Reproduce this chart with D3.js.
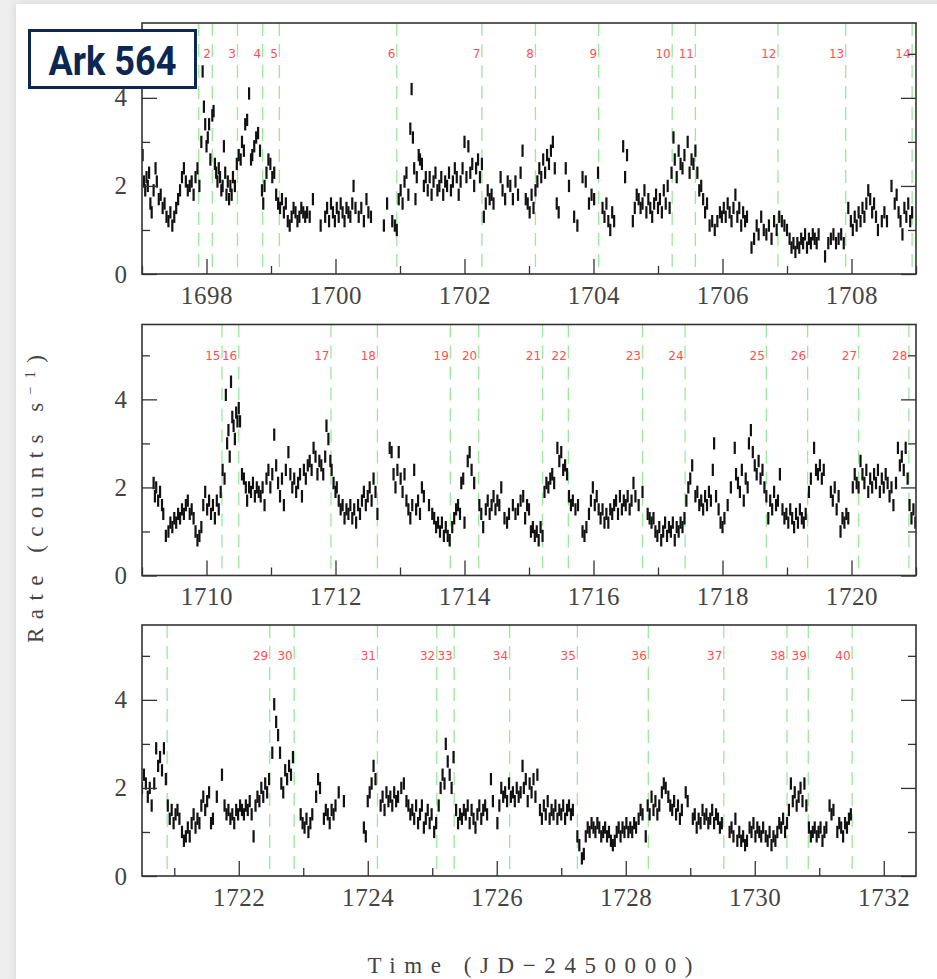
<!DOCTYPE html>
<html>
<head>
<meta charset="utf-8">
<script src="https://cdn.jsdelivr.net/npm/d3@7"></script>
<style>
  html, body { margin: 0; padding: 0; background: #eeeeee; }
  svg { display: block; }
</style>
</head>
<body>
<svg id="chart" width="937" height="979"></svg>
<script>
// Ark 564 X-ray light curve: [time (JD-2450000), rate (counts/s)]
const segmentA = [
  [1697.01,2.7],[1697.03,2.1],[1697.05,1.9],[1697.07,2.2],[1697.09,2.0],[1697.11,2.3],[1697.13,1.6],[1697.15,1.4],
  [1697.18,1.9],[1697.21,2.4],[1697.23,2.1],[1697.26,1.7],[1697.29,1.8],[1697.32,1.5],[1697.35,1.6],[1697.38,1.3],
  [1697.41,1.2],[1697.44,1.4],[1697.47,1.1],[1697.50,1.3],[1697.53,1.5],[1697.56,1.7],[1697.59,1.9],[1697.62,2.2],
  [1697.65,2.4],[1697.68,2.1],[1697.71,1.9],[1697.74,2.0],[1697.77,2.1],[1697.80,1.8],[1697.83,2.2],[1697.86,2.4],
  [1697.89,2.0],[1697.92,3.0],[1697.94,4.6],[1697.96,3.8],[1697.98,3.4],[1698.00,2.9],[1698.02,3.1],[1698.04,3.4],
  [1698.06,2.6],[1698.09,3.6],[1698.11,3.7],[1698.13,2.5],[1698.15,2.3],[1698.17,2.1],[1698.19,2.4],[1698.21,2.2],
  [1698.23,1.9],[1698.25,2.0],[1698.27,2.9],[1698.29,2.3],[1698.31,1.8],[1698.33,2.1],[1698.35,1.7],[1698.37,2.0],
  [1698.39,1.8],[1698.41,2.2],[1698.44,2.0],[1698.47,2.5],[1698.50,2.7],[1698.53,2.6],[1698.55,3.0],[1698.58,2.8],
  [1698.60,3.4],[1698.63,3.5],[1698.66,4.1],[1698.69,2.6],[1698.71,2.7],[1698.74,2.9],[1698.77,3.1],[1698.80,3.2],
  [1698.83,2.8],[1698.86,1.9],[1698.88,1.6],[1698.90,2.0],[1698.93,2.3],[1698.96,2.6],[1698.99,2.5],[1699.02,2.2],
  [1699.05,2.3],[1699.08,1.8],[1699.11,1.6],[1699.14,1.5],[1699.17,1.7],[1699.20,1.4],[1699.23,1.6],[1699.26,1.2],
  [1699.29,1.1],[1699.32,1.3],[1699.35,1.5],[1699.38,1.4],[1699.41,1.2],[1699.44,1.3],[1699.47,1.5],[1699.50,1.4],
  [1699.53,1.3],[1699.56,1.4],[1699.60,1.3],[1699.65,1.7],[1699.77,1.1],[1699.84,1.3],[1699.87,1.5],[1699.90,1.2],
  [1699.93,1.6],[1699.96,1.4],[1699.99,1.2],[1700.02,1.5],[1700.05,1.3],[1700.08,1.6],[1700.11,1.4],[1700.14,1.2],
  [1700.17,1.5],[1700.20,1.4],[1700.23,1.3],[1700.26,1.6],[1700.28,2.0],[1700.31,1.5],[1700.36,1.3],[1700.40,1.5],
  [1700.44,1.2],[1700.48,1.7],[1700.51,1.4],[1700.55,1.3],[1700.75,1.1],[1700.80,1.6],[1700.88,1.2],[1700.92,1.1],
  [1700.95,1.0],[1700.98,1.7],[1701.01,1.9],[1701.04,1.6],[1701.07,2.1],[1701.10,2.3],[1701.13,1.8],[1701.16,3.3],
  [1701.18,4.2],[1701.20,3.1],[1701.22,2.4],[1701.24,1.7],[1701.26,2.2],[1701.29,2.7],[1701.31,2.6],[1701.34,2.5],
  [1701.37,2.0],[1701.40,2.2],[1701.43,1.9],[1701.46,2.2],[1701.49,1.8],[1701.52,2.1],[1701.55,2.3],[1701.58,1.9],
  [1701.61,2.0],[1701.64,2.2],[1701.67,1.8],[1701.70,2.1],[1701.73,2.0],[1701.76,2.3],[1701.79,1.9],[1701.82,2.1],
  [1701.85,2.4],[1701.88,2.2],[1701.91,1.8],[1701.94,2.1],[1701.97,2.4],[1702.00,3.0],[1702.03,2.2],[1702.06,2.9],
  [1702.09,2.3],[1702.12,2.5],[1702.15,2.0],[1702.18,2.4],[1702.21,2.6],[1702.24,2.2],[1702.27,2.5],[1702.30,1.3],
  [1702.33,1.6],[1702.36,1.9],[1702.39,1.7],[1702.42,1.8],[1702.45,1.6],[1702.56,2.2],[1702.59,1.9],[1702.63,1.7],
  [1702.67,2.1],[1702.71,2.0],[1702.75,1.7],[1702.79,2.1],[1702.83,1.8],[1702.87,2.3],[1702.90,2.8],[1702.95,1.7],
  [1702.98,1.6],[1703.01,1.4],[1703.04,1.8],[1703.07,1.5],[1703.10,1.9],[1703.13,2.1],[1703.16,2.4],[1703.19,2.2],
  [1703.22,2.6],[1703.25,2.3],[1703.28,2.7],[1703.31,2.5],[1703.34,2.8],[1703.37,3.0],[1703.40,2.4],[1703.43,1.6],
  [1703.46,1.4],[1703.57,2.4],[1703.62,2.0],[1703.70,1.3],[1703.75,1.1],[1703.83,2.2],[1703.88,2.1],[1703.93,1.6],
  [1703.97,1.8],[1704.01,1.7],[1704.07,2.3],[1704.14,1.5],[1704.17,1.3],[1704.20,1.6],[1704.23,1.2],[1704.26,1.0],
  [1704.29,1.4],[1704.32,1.2],[1704.46,2.9],[1704.49,2.2],[1704.52,2.7],[1704.61,1.2],[1704.64,1.5],[1704.67,1.8],
  [1704.70,1.7],[1704.73,1.5],[1704.76,1.6],[1704.79,1.9],[1704.82,1.4],[1704.85,1.7],[1704.88,1.5],[1704.91,1.3],
  [1704.94,1.6],[1704.97,1.8],[1705.00,1.5],[1705.03,1.7],[1705.06,1.4],[1705.09,1.9],[1705.12,1.6],[1705.15,2.0],
  [1705.18,1.5],[1705.21,2.3],[1705.24,3.1],[1705.26,2.6],[1705.29,2.2],[1705.32,2.8],[1705.35,2.5],[1705.38,2.4],
  [1705.41,2.7],[1705.46,3.0],[1705.49,2.3],[1705.52,2.6],[1705.55,2.5],[1705.58,2.8],[1705.61,2.3],[1705.64,1.9],
  [1705.67,2.0],[1705.70,1.7],[1705.73,1.4],[1705.76,1.6],[1705.80,1.1],[1705.84,1.2],[1705.88,1.0],[1705.92,1.2],
  [1705.96,1.4],[1705.99,1.3],[1706.02,1.5],[1706.05,1.3],[1706.08,1.6],[1706.11,1.4],[1706.14,1.2],[1706.17,1.5],
  [1706.20,1.8],[1706.23,1.3],[1706.26,1.5],[1706.29,1.1],[1706.32,1.4],[1706.35,1.2],[1706.38,1.3],[1706.45,0.6],
  [1706.49,0.8],[1706.53,1.1],[1706.56,0.9],[1706.60,1.3],[1706.64,1.0],[1706.68,0.9],[1706.72,1.1],[1706.76,0.8],
  [1706.80,1.2],[1706.84,1.0],[1706.88,1.3],[1706.92,1.2],[1706.96,1.1],[1707.00,1.0],[1707.04,0.8],[1707.07,0.6],
  [1707.10,0.7],[1707.13,0.5],[1707.16,0.7],[1707.19,0.6],[1707.22,0.8],[1707.25,0.7],[1707.28,0.9],[1707.31,0.6],
  [1707.34,0.8],[1707.37,0.7],[1707.40,0.9],[1707.43,0.8],[1707.46,0.7],[1707.49,0.9],[1707.59,0.4],[1707.64,0.7],
  [1707.68,0.8],[1707.72,0.9],[1707.76,0.7],[1707.80,0.8],[1707.84,0.9],[1707.88,0.7],[1707.95,1.5],[1707.99,1.2],
  [1708.02,1.0],[1708.05,1.3],[1708.08,1.1],[1708.11,1.4],[1708.14,1.2],[1708.17,1.5],[1708.20,1.3],[1708.23,1.6],
  [1708.26,1.9],[1708.29,1.7],[1708.32,1.4],[1708.35,1.6],[1708.38,1.3],[1708.41,1.0],[1708.47,1.2],[1708.51,1.4],
  [1708.55,1.2],[1708.62,2.0],[1708.67,1.6],[1708.70,1.8],[1708.73,1.4],[1708.76,1.2],[1708.79,0.9],[1708.82,1.5],
  [1708.85,1.3],[1708.88,1.6],[1708.91,1.2],[1708.94,1.4]
];

const segmentB = [
  [1709.18,2.1],[1709.20,1.8],[1709.22,2.0],[1709.25,1.7],[1709.28,1.9],[1709.31,1.6],[1709.33,1.4],[1709.37,0.9],
  [1709.41,1.0],[1709.44,1.2],[1709.47,1.1],[1709.50,1.3],[1709.53,1.2],[1709.56,1.4],[1709.59,1.3],[1709.62,1.5],
  [1709.65,1.4],[1709.68,1.6],[1709.71,1.7],[1709.74,1.4],[1709.77,1.5],[1709.80,1.3],[1709.83,1.0],[1709.86,0.8],
  [1709.89,0.9],[1709.92,1.1],[1709.95,1.6],[1709.98,1.9],[1710.01,1.5],[1710.04,1.7],[1710.07,1.4],[1710.10,1.6],
  [1710.13,1.3],[1710.16,1.7],[1710.19,1.5],[1710.22,1.9],[1710.25,2.4],[1710.28,2.2],[1710.30,4.1],[1710.32,3.0],
  [1710.34,3.3],[1710.36,2.7],[1710.38,4.4],[1710.40,3.6],[1710.42,3.4],[1710.44,3.1],[1710.46,3.7],[1710.48,3.5],
  [1710.50,3.8],[1710.52,3.5],[1710.55,2.3],[1710.58,2.2],[1710.61,2.0],[1710.63,1.7],[1710.66,2.0],[1710.69,1.9],
  [1710.72,2.1],[1710.75,1.8],[1710.78,2.0],[1710.81,1.9],[1710.84,1.8],[1710.87,2.0],[1710.90,1.6],[1710.93,2.2],
  [1710.96,2.4],[1710.99,2.0],[1711.02,2.3],[1711.05,3.2],[1711.08,2.5],[1711.11,2.1],[1711.14,1.8],[1711.17,2.2],
  [1711.20,1.6],[1711.23,2.4],[1711.27,2.8],[1711.30,2.3],[1711.33,2.0],[1711.36,2.2],[1711.39,1.9],[1711.42,2.1],
  [1711.45,2.3],[1711.48,1.8],[1711.51,2.4],[1711.54,2.2],[1711.57,2.5],[1711.60,2.6],[1711.63,2.4],[1711.66,2.9],
  [1711.69,2.7],[1711.72,2.3],[1711.75,2.6],[1711.78,2.5],[1711.81,2.3],[1711.84,2.7],[1711.86,3.4],[1711.89,3.1],
  [1711.92,2.6],[1711.94,2.4],[1711.97,2.1],[1712.00,1.9],[1712.02,2.0],[1712.05,1.7],[1712.08,1.5],[1712.11,1.6],
  [1712.14,1.3],[1712.17,1.5],[1712.20,1.4],[1712.23,1.6],[1712.26,1.3],[1712.29,1.5],[1712.32,1.2],[1712.35,1.6],
  [1712.38,1.4],[1712.41,1.7],[1712.44,1.9],[1712.47,1.6],[1712.50,1.8],[1712.53,2.0],[1712.56,1.7],[1712.59,2.2],
  [1712.62,1.9],[1712.65,1.4],[1712.84,2.9],[1712.87,2.8],[1712.90,2.3],[1712.93,2.0],[1712.96,2.4],[1712.98,2.8],
  [1713.01,2.2],[1713.04,1.9],[1713.07,2.3],[1713.10,1.7],[1713.13,1.5],[1713.16,1.3],[1713.19,1.6],[1713.22,2.4],
  [1713.25,1.5],[1713.28,1.7],[1713.31,1.4],[1713.34,2.0],[1713.37,1.8],[1713.45,1.6],[1713.50,1.4],[1713.53,1.3],
  [1713.56,1.1],[1713.59,1.2],[1713.62,1.0],[1713.65,1.2],[1713.68,0.9],[1713.71,1.1],[1713.74,0.9],[1713.77,0.8],
  [1713.81,1.1],[1713.84,1.3],[1713.87,1.5],[1713.90,1.6],[1713.93,1.4],[1713.95,2.1],[1713.98,2.2],[1714.00,1.2],
  [1714.05,2.6],[1714.08,2.8],[1714.11,2.4],[1714.15,2.1],[1714.23,1.6],[1714.26,1.4],[1714.29,1.1],[1714.33,1.5],
  [1714.36,1.7],[1714.39,1.4],[1714.42,1.6],[1714.45,1.8],[1714.48,1.5],[1714.51,1.7],[1714.54,1.6],[1714.57,2.0],
  [1714.62,1.3],[1714.66,1.2],[1714.69,1.4],[1714.75,1.6],[1714.79,1.4],[1714.83,1.5],[1714.87,1.7],[1714.91,1.8],
  [1714.94,1.3],[1714.97,1.6],[1715.00,1.5],[1715.03,1.0],[1715.06,1.1],[1715.09,0.9],[1715.12,1.0],[1715.15,0.8],
  [1715.18,1.1],[1715.21,0.9],[1715.24,1.9],[1715.27,2.1],[1715.30,2.0],[1715.33,2.2],[1715.36,2.3],[1715.39,2.1],
  [1715.44,2.9],[1715.47,2.6],[1715.50,2.8],[1715.53,2.4],[1715.56,2.5],[1715.59,2.3],[1715.62,1.8],[1715.65,1.6],
  [1715.68,1.7],[1715.72,1.5],[1715.76,1.6],[1715.83,1.0],[1715.86,0.9],[1715.89,1.1],[1715.93,1.4],[1715.96,1.7],
  [1715.99,2.0],[1716.02,1.6],[1716.05,1.8],[1716.08,1.5],[1716.11,1.3],[1716.14,1.5],[1716.17,1.2],[1716.20,1.4],
  [1716.23,1.2],[1716.26,1.5],[1716.29,1.4],[1716.32,1.6],[1716.35,1.7],[1716.38,1.4],[1716.41,1.8],[1716.44,1.5],
  [1716.47,1.7],[1716.50,1.6],[1716.53,1.8],[1716.56,1.5],[1716.59,1.7],[1716.62,2.1],[1716.65,1.8],[1716.70,1.6],
  [1716.76,1.9],[1716.84,1.4],[1716.87,1.3],[1716.90,1.2],[1716.93,1.3],[1716.96,1.0],[1716.99,0.9],[1717.02,1.1],
  [1717.05,0.8],[1717.08,1.0],[1717.11,1.2],[1717.14,0.9],[1717.17,1.1],[1717.20,1.0],[1717.23,1.2],[1717.26,0.8],
  [1717.29,1.1],[1717.32,1.0],[1717.35,1.2],[1717.38,1.1],[1717.41,1.3],[1717.44,1.7],[1717.47,2.0],[1717.50,2.2],
  [1717.53,2.5],[1717.58,1.8],[1717.61,1.9],[1717.64,1.6],[1717.67,1.7],[1717.70,1.5],[1717.73,1.8],[1717.76,1.6],
  [1717.79,1.9],[1717.82,1.7],[1717.85,2.4],[1717.87,3.0],[1717.90,1.8],[1717.94,1.5],[1717.97,1.2],[1718.00,1.1],
  [1718.03,1.3],[1718.08,1.6],[1718.13,2.0],[1718.19,2.9],[1718.21,2.3],[1718.24,2.1],[1718.27,1.9],[1718.30,2.4],
  [1718.33,1.7],[1718.36,2.2],[1718.39,2.0],[1718.41,3.0],[1718.44,3.3],[1718.47,2.8],[1718.50,2.5],[1718.53,2.3],
  [1718.56,2.6],[1718.59,2.2],[1718.62,2.4],[1718.65,2.0],[1718.68,1.8],[1718.71,1.3],[1718.74,1.7],[1718.77,1.5],
  [1718.80,1.9],[1718.83,1.6],[1718.86,1.7],[1718.89,2.3],[1718.93,1.5],[1718.96,1.3],[1718.99,1.4],[1719.02,1.2],
  [1719.05,1.5],[1719.08,1.3],[1719.11,1.1],[1719.14,1.4],[1719.17,1.2],[1719.20,1.5],[1719.23,1.3],[1719.26,1.2],
  [1719.29,1.4],[1719.34,1.9],[1719.37,2.2],[1719.42,2.9],[1719.45,2.4],[1719.48,2.3],[1719.51,2.5],[1719.54,2.2],
  [1719.57,2.4],[1719.68,1.9],[1719.71,1.7],[1719.74,2.0],[1719.77,1.5],[1719.80,1.8],[1719.83,1.0],[1719.86,1.3],
  [1719.89,1.2],[1719.92,1.4],[1719.95,1.3],[1720.02,2.0],[1720.05,2.3],[1720.08,2.1],[1720.11,2.0],[1720.14,2.6],
  [1720.17,2.3],[1720.20,2.1],[1720.23,2.4],[1720.26,1.9],[1720.29,2.2],[1720.32,2.0],[1720.35,2.3],[1720.38,2.1],
  [1720.41,2.4],[1720.44,1.9],[1720.47,2.2],[1720.50,2.0],[1720.53,2.3],[1720.56,2.1],[1720.59,1.8],[1720.62,2.0],
  [1720.65,1.6],[1720.69,2.1],[1720.72,2.9],[1720.75,2.5],[1720.78,2.7],[1720.81,2.4],[1720.84,2.9],[1720.87,2.2],
  [1720.90,1.6],[1720.93,1.3],[1720.96,1.5],[1720.99,1.2]
];

const segmentC = [
  [1721.02,1.4],[1721.05,1.5],[1721.08,1.3],[1721.12,1.0],[1721.15,0.8],[1721.18,0.9],[1721.21,1.1],[1721.24,0.9],
  [1721.27,1.2],[1721.30,1.4],[1721.33,1.1],[1721.36,1.3],[1721.39,1.2],[1721.42,1.6],[1721.45,1.8],[1721.48,1.5],
  [1721.51,1.7],[1721.54,1.9],[1721.57,1.2],[1721.60,1.3],[1721.66,1.8],[1721.74,2.3],[1721.78,1.6],[1721.81,1.4],
  [1721.84,1.5],[1721.87,1.3],[1721.90,1.4],[1721.93,1.2],[1721.96,1.5],[1721.99,1.4],[1722.02,1.6],[1722.05,1.5],
  [1722.08,1.4],[1722.11,1.6],[1722.14,1.5],[1722.17,1.7],[1722.20,1.4],[1722.23,0.9],[1722.26,1.6],[1722.29,1.8],
  [1722.32,1.7],[1722.35,2.0],[1722.38,1.8],[1722.41,2.1],[1722.44,1.9],[1722.47,2.2],[1722.52,2.8],[1722.55,3.9],
  [1722.58,3.5],[1722.61,3.2],[1722.64,2.8],[1722.66,2.1],[1722.69,1.9],[1722.72,2.4],[1722.75,2.2],[1722.78,2.5],
  [1722.81,2.3],[1722.84,2.7],[1722.96,1.4],[1722.99,1.2],[1723.02,1.1],[1723.05,1.3],[1723.08,1.0],[1723.11,1.2],
  [1723.14,1.4],[1723.20,1.8],[1723.23,2.2],[1723.26,2.0],[1723.32,1.3],[1723.35,1.5],[1723.38,1.4],[1723.41,1.2],
  [1723.44,1.5],[1723.47,1.4],[1723.50,1.6],[1723.55,1.9],[1723.63,1.7],[1723.94,1.1],[1723.97,0.9],[1724.00,1.7],
  [1724.03,1.9],[1724.06,2.1],[1724.09,2.5],[1724.12,2.2],[1724.20,1.6],[1724.23,1.8],[1724.26,1.5],[1724.29,1.9],
  [1724.32,1.7],[1724.35,1.8],[1724.38,1.6],[1724.41,1.9],[1724.44,1.7],[1724.47,1.8],[1724.52,2.0],[1724.56,2.1],
  [1724.60,1.7],[1724.63,1.6],[1724.66,1.4],[1724.69,1.5],[1724.72,1.3],[1724.75,1.6],[1724.78,1.2],[1724.81,1.4],
  [1724.84,1.6],[1724.87,1.1],[1724.90,1.3],[1724.93,1.5],[1724.96,1.2],[1724.99,1.4],[1725.03,1.0],[1725.06,1.2],
  [1725.10,1.6],[1725.13,2.0],[1725.16,2.3],[1725.19,2.1],[1725.21,3.0],[1725.24,2.6],[1725.27,2.3],[1725.30,2.0],
  [1725.33,2.7],[1725.37,1.5],[1725.40,1.2],[1725.43,1.4],[1725.46,1.3],[1725.49,1.5],[1725.52,1.4],[1725.55,1.6],
  [1725.58,1.2],[1725.61,1.5],[1725.64,1.3],[1725.67,1.1],[1725.70,1.4],[1725.73,1.6],[1725.76,1.3],[1725.79,1.5],
  [1725.82,1.6],[1725.85,1.4],[1725.91,2.2],[1725.94,1.7],[1726.01,1.2],[1726.04,1.6],[1726.07,2.0],[1726.10,1.8],
  [1726.13,1.9],[1726.16,1.7],[1726.19,2.1],[1726.22,1.8],[1726.25,1.9],[1726.28,1.7],[1726.31,2.0],[1726.34,1.8],
  [1726.37,1.9],[1726.40,2.5],[1726.42,2.0],[1726.45,2.2],[1726.48,1.7],[1726.51,2.1],[1726.54,1.9],[1726.57,2.2],
  [1726.60,1.8],[1726.63,2.3],[1726.67,1.5],[1726.70,1.3],[1726.73,1.6],[1726.76,1.4],[1726.79,1.7],[1726.82,1.3],
  [1726.85,1.5],[1726.88,1.4],[1726.91,1.6],[1726.94,1.3],[1726.97,1.5],[1727.00,1.4],[1727.03,1.6],[1727.06,1.3],
  [1727.09,1.5],[1727.12,1.6],[1727.15,1.4],[1727.18,1.5],[1727.25,0.9],[1727.28,0.7],[1727.32,0.4],[1727.35,0.5],
  [1727.38,0.9],[1727.41,1.1],[1727.44,1.0],[1727.47,1.2],[1727.50,1.1],[1727.53,1.0],[1727.56,1.2],[1727.59,1.1],
  [1727.62,0.9],[1727.65,1.0],[1727.68,1.1],[1727.71,0.9],[1727.74,1.0],[1727.77,0.8],[1727.80,0.7],[1727.83,0.8],
  [1727.86,1.0],[1727.89,1.1],[1727.92,0.9],[1727.95,1.1],[1727.98,1.0],[1728.01,1.2],[1728.04,1.0],[1728.07,1.1],
  [1728.10,1.0],[1728.13,1.2],[1728.16,1.1],[1728.20,1.3],[1728.23,1.5],[1728.26,1.4],[1728.31,0.9],[1728.34,1.6],
  [1728.37,1.4],[1728.40,1.8],[1728.43,1.5],[1728.46,1.7],[1728.49,1.4],[1728.52,1.6],[1728.56,1.9],[1728.59,2.1],
  [1728.62,2.0],[1728.66,1.8],[1728.69,1.6],[1728.72,1.5],[1728.75,1.7],[1728.78,1.4],[1728.81,1.6],[1728.84,1.3],
  [1728.87,1.5],[1728.93,1.9],[1728.96,1.7],[1729.04,1.3],[1729.07,1.4],[1729.10,1.1],[1729.13,1.3],[1729.16,1.2],
  [1729.19,1.5],[1729.22,1.3],[1729.25,1.4],[1729.28,1.2],[1729.31,1.3],[1729.34,1.5],[1729.37,1.2],[1729.40,1.4],
  [1729.43,1.3],[1729.46,1.1],[1729.49,1.2],[1729.61,1.0],[1729.64,1.1],[1729.67,0.9],[1729.70,1.3],[1729.73,0.8],
  [1729.76,1.0],[1729.79,0.8],[1729.82,0.9],[1729.85,0.7],[1729.88,0.8],[1729.92,1.1],[1729.95,1.0],[1729.98,1.2],
  [1730.01,0.9],[1730.04,1.1],[1730.07,1.0],[1730.10,0.9],[1730.13,1.1],[1730.17,0.9],[1730.20,0.8],[1730.23,1.0],
  [1730.26,0.7],[1730.29,0.9],[1730.32,0.8],[1730.35,1.0],[1730.38,1.2],[1730.41,1.1],[1730.44,1.3],[1730.47,1.0],
  [1730.50,1.2],[1730.53,1.5],[1730.56,2.1],[1730.59,1.7],[1730.62,1.9],[1730.65,1.6],[1730.68,1.8],[1730.71,2.0],
  [1730.74,1.7],[1730.77,2.1],[1730.80,1.6],[1730.84,1.1],[1730.87,0.9],[1730.90,1.0],[1730.93,1.1],[1730.96,0.9],
  [1730.99,1.0],[1731.02,1.1],[1731.05,0.8],[1731.08,1.0],[1731.11,1.1],[1731.16,1.6],[1731.19,1.4],[1731.22,1.5],
  [1731.28,1.0],[1731.31,1.2],[1731.34,1.1],[1731.37,0.9],[1731.40,1.2],[1731.43,1.1],[1731.46,1.3],[1731.49,1.4]
];

// Half-length of each error bar (counts/s)
const rateError = 0.14;

// Observation markers (dashed verticals) and their numbers
const markerTimes = [
  1697.88, 1698.09, 1698.48, 1698.87, 1699.13, 1700.95, 1702.27, 1703.10, 1704.08, 1705.22,
  1705.58, 1706.86, 1707.91, 1708.94, 1710.24, 1710.50, 1711.93, 1712.65, 1713.78, 1714.22,
  1715.21, 1715.61, 1716.76, 1717.42, 1718.68, 1719.32, 1720.11, 1720.89, 1722.48, 1722.86,
  1724.15, 1725.07, 1725.34, 1726.20, 1727.25, 1728.35, 1729.52, 1730.50, 1730.83, 1731.51
];
const markerLabels = [
  "1","2","3","4","5","6","7","8","9","10","11","12","13","14","15","16","17","18","19","20",
  "21","22","23","24","25","26","27","28","29","30","31","32","33","34","35","36","37","38","39","40"
];

// Time span of each strip, and the span in which a strip labels its markers
const panelDomains = [[1697, 1709], [1709, 1721], [1720.5, 1732.5]];
const labelSpans = [[1697, 1709], [1709, 1721], [1721, 1732.5]];

const rateMax = 5.7;
const yMajorTicks = [0, 2, 4];
const yMinorTicks = [1, 3, 5];
const markerLabelRate = 5;

const titleText = "Ark 564";
const xTitle = "Time (JD\u22122450000)";

// ---- layout ----
const svg = d3.select("#chart");
const W = 937, H = 979;
const plotLeft = 142, plotRight = 916, plotH = 251;
const panelTops = [23, 324.5, 625];
const serif = "'Liberation Serif', 'DejaVu Serif', serif";

// page and card
const defs = svg.append("defs");
const shadow = defs.append("filter").attr("id", "cardShadow")
  .attr("x", "-5%").attr("y", "-5%").attr("width", "110%").attr("height", "110%");
shadow.append("feDropShadow").attr("dx", 0).attr("dy", 0).attr("stdDeviation", 5)
  .attr("flood-color", "#000").attr("flood-opacity", 0.12);
svg.append("rect").attr("width", W).attr("height", H).attr("fill", "#eeeeee");
svg.append("rect").attr("x", 16).attr("y", 4).attr("width", W).attr("height", H)
  .attr("fill", "#ffffff").attr("filter", "url(#cardShadow)");

const allPoints = segmentA.concat(segmentB, segmentC);
const markers = markerTimes.map((t, i) => ({ t, label: markerLabels[i] }));

panelDomains.forEach((dom, p) => {
  const top = panelTops[p];
  const x = d3.scaleLinear().domain(dom).range([plotLeft, plotRight]);
  const y = d3.scaleLinear().domain([0, rateMax]).range([top + plotH, top]);
  const g = svg.append("g");

  const clipId = "clip" + p;
  defs.append("clipPath").attr("id", clipId).append("rect")
    .attr("x", plotLeft).attr("y", top).attr("width", plotRight - plotLeft).attr("height", plotH);

  const inner = g.append("g").attr("clip-path", `url(#${clipId})`);

  // dashed marker lines
  const shown = markers.filter(m => m.t >= dom[0] && m.t <= dom[1]);
  inner.selectAll("line.marker").data(shown).join("line")
    .attr("class", "marker")
    .attr("x1", d => x(d.t)).attr("x2", d => x(d.t))
    .attr("y1", top).attr("y2", top + plotH)
    .attr("stroke", "#9be99b").attr("stroke-width", 1.3)
    .attr("stroke-dasharray", "13,8");

  // error bars of the light curve
  const pts = allPoints.filter(d => d[0] >= dom[0] && d[0] <= dom[1]);
  inner.selectAll("line.bar").data(pts).join("line")
    .attr("class", "bar")
    .attr("x1", d => x(d[0])).attr("x2", d => x(d[0]))
    .attr("y1", d => y(d[1] - rateError)).attr("y2", d => y(d[1] + rateError))
    .attr("stroke", "#111").attr("stroke-width", 2.2);

  // marker numbers
  const labelled = markers.filter(m => m.t >= labelSpans[p][0] && m.t < labelSpans[p][1]);
  g.selectAll("text.mlabel").data(labelled).join("text")
    .attr("class", "mlabel")
    .attr("x", d => x(d.t) - 1.5).attr("y", y(markerLabelRate))
    .attr("dy", "0.36em")
    .attr("text-anchor", "end")
    .attr("font-family", "'DejaVu Sans', sans-serif")
    .attr("font-size", 12)
    .attr("fill", "#ff5050")
    .text(d => d.label);

  // axes: inward ticks, major with labels and minor without
  const xMajor = d3.range(Math.ceil(dom[0] / 2) * 2, dom[1] + 0.001, 2);
  const xMinor = d3.range(Math.ceil(dom[0]), dom[1] + 0.001, 1).filter(v => v % 2 !== 0);

  const axisStyle = sel => {
    sel.select(".domain").remove();
    sel.selectAll(".tick line").attr("stroke", "#333").attr("stroke-width", 1.3);
    sel.selectAll(".tick text").attr("fill", "#444")
      .attr("font-family", serif).attr("font-size", 25);
  };

  g.append("g").attr("transform", `translate(0,${top + plotH})`)
    .call(d3.axisBottom(x).tickValues(xMajor).tickSize(-15).tickPadding(12).tickFormat(d3.format("d")))
    .call(axisStyle)
    .call(s => s.selectAll(".tick text").attr("letter-spacing", 0.6));
  g.append("g").attr("transform", `translate(0,${top + plotH})`)
    .call(d3.axisBottom(x).tickValues(xMinor).tickSize(-8).tickFormat(""))
    .call(axisStyle);

  g.append("g").attr("transform", `translate(${plotLeft},0)`)
    .call(d3.axisLeft(y).tickValues(yMajorTicks).tickSize(-15).tickPadding(15).tickFormat(d3.format("d")))
    .call(axisStyle);
  g.append("g").attr("transform", `translate(${plotLeft},0)`)
    .call(d3.axisLeft(y).tickValues(yMinorTicks).tickSize(-8).tickFormat(""))
    .call(axisStyle);
  g.append("g").attr("transform", `translate(${plotRight},0)`)
    .call(d3.axisRight(y).tickValues(yMajorTicks).tickSize(-15).tickFormat(""))
    .call(axisStyle);
  g.append("g").attr("transform", `translate(${plotRight},0)`)
    .call(d3.axisRight(y).tickValues(yMinorTicks).tickSize(-8).tickFormat(""))
    .call(axisStyle);

  // frame
  g.append("rect")
    .attr("x", plotLeft).attr("y", top)
    .attr("width", plotRight - plotLeft).attr("height", plotH)
    .attr("fill", "none").attr("stroke", "#333").attr("stroke-width", 1.6);
});

// axis titles
svg.append("text")
  .attr("x", 530).attr("y", 973)
  .attr("text-anchor", "middle")
  .attr("font-family", serif).attr("font-size", 23).attr("fill", "#444")
  .attr("textLength", 325).attr("lengthAdjust", "spacing")
  .text(xTitle);

const yTitle = svg.append("text")
  .attr("transform", "translate(43,499) rotate(-90)")
  .attr("text-anchor", "middle")
  .attr("font-family", serif).attr("font-size", 23).attr("fill", "#444")
  .attr("textLength", 288).attr("lengthAdjust", "spacing");
yTitle.append("tspan").text("Rate (counts s");
yTitle.append("tspan").attr("dy", -8).attr("font-size", 14).text("\u22121");
yTitle.append("tspan").attr("dy", 8).text(")");

// title badge
const badge = svg.append("g");
badge.append("rect")
  .attr("x", 29.5).attr("y", 30.5).attr("width", 166).attr("height", 57)
  .attr("fill", "#ffffff").attr("stroke", "#0c2752").attr("stroke-width", 3);
badge.append("text")
  .attr("x", 112.5).attr("y", 75)
  .attr("text-anchor", "middle")
  .attr("font-family", "Roboto, 'Open Sans', sans-serif")
  .attr("font-weight", 700).attr("font-size", 40)
  .attr("fill", "#0c2752")
  .attr("textLength", 128).attr("lengthAdjust", "spacingAndGlyphs")
  .text(titleText);
</script>
</body>
</html>
